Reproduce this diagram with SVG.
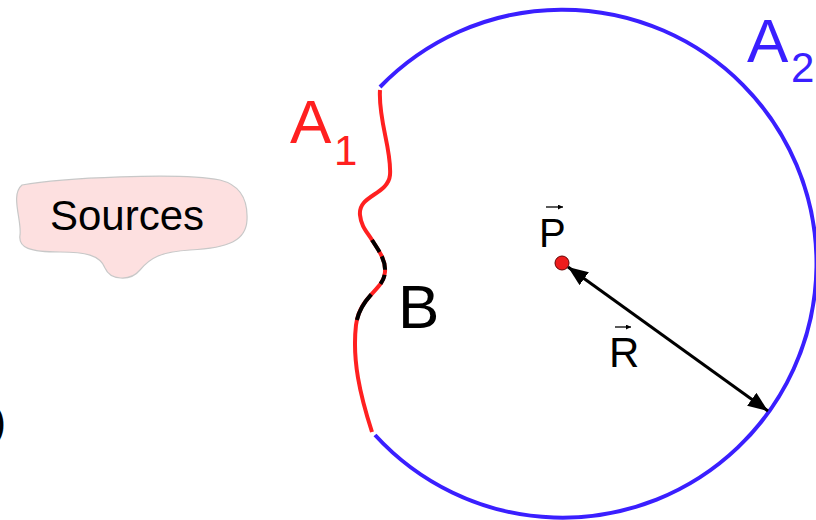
<svg xmlns="http://www.w3.org/2000/svg" width="816" height="520" viewBox="0 0 816 520">
<style>
text{font-family:"Liberation Sans",Arial,sans-serif}
.blk{fill:#000}
.red{fill:#ff2020}
.blue{fill:#3a1fff}
</style>
<defs>
<marker id="ah" markerUnits="userSpaceOnUse" markerWidth="22" markerHeight="18" refX="20" refY="8" orient="auto-start-reverse">
<path d="M0,0 L20,8 L0,16 Z" fill="#000"/>
</marker>
<marker id="vh" markerUnits="userSpaceOnUse" markerWidth="6" markerHeight="6" refX="5" refY="2.5" orient="auto">
<path d="M0,0 L5,2.5 L0,5 Z" fill="#000"/>
</marker>
</defs>
<rect width="816" height="520" fill="#fff"/>
<g id="sources">
<path d="M22,185 C60,178 180,172 220,180 C240,185 248,200 247,220 C246,240 230,248 190,250 C160,252 150,258 140,270 C130,282 110,280 105,268 C100,255 85,252 60,252 C30,252 18,248 20,235 C22,220 10,195 22,185 Z" fill="#fde0e0" stroke="#c8c8c8" stroke-width="1.2"/>
<text x="50" y="230" font-size="42" class="blk">Sources</text>
</g>
<g id="A2">
<path d="M380,87 A254,254 0 1 1 375,435" fill="none" stroke="#3a1fff" stroke-width="4"/>
<text x="747" y="62" font-size="62" class="blue">A</text>
<text x="791" y="82" font-size="42" class="blue">2</text>
</g>
<g id="A1">
<path d="M380,90 C378,120 392,150 390,175 C388,195 358,195 360,215 C361,226 367,232 372,240 C379,251 386,260 385,272 C384,290 360,295 356,325 C352,360 360,395 372,432" fill="none" stroke="#ff2020" stroke-width="4"/>
<text x="290" y="143" font-size="62" class="red">A</text>
<text x="334" y="165" font-size="42" class="red">1</text>
</g>
<g id="B">
<path d="M372,240 C379,251 386,260 385,272 C384,290 360,295 356,325" fill="none" stroke="#000" stroke-width="4" stroke-dasharray="14 5 14 5 10 14 30"/>
<text x="398" y="328" font-size="62" class="blk">B</text>
</g>
<g id="P">
<circle cx="562" cy="263" r="7" fill="#ee1c1c" stroke="#600" stroke-width="1"/>
<text x="539" y="247" font-size="40" class="blk">P</text>
<line x1="546" y1="207" x2="563" y2="207" stroke="#000" stroke-width="1.3" marker-end="url(#vh)"/>
</g>
<g id="R">
<text x="609" y="367" font-size="42" class="blk">R</text>
<line x1="615" y1="327" x2="631" y2="327" stroke="#000" stroke-width="1.3" marker-end="url(#vh)"/>
</g>
<g id="clipped">
<text x="-8" y="436" font-size="42" class="blk">)</text>
</g>
<g id="connectors">
<line x1="568" y1="267" x2="768" y2="411" stroke="#000" stroke-width="3" marker-start="url(#ah)" marker-end="url(#ah)"/>
</g>
</svg>
